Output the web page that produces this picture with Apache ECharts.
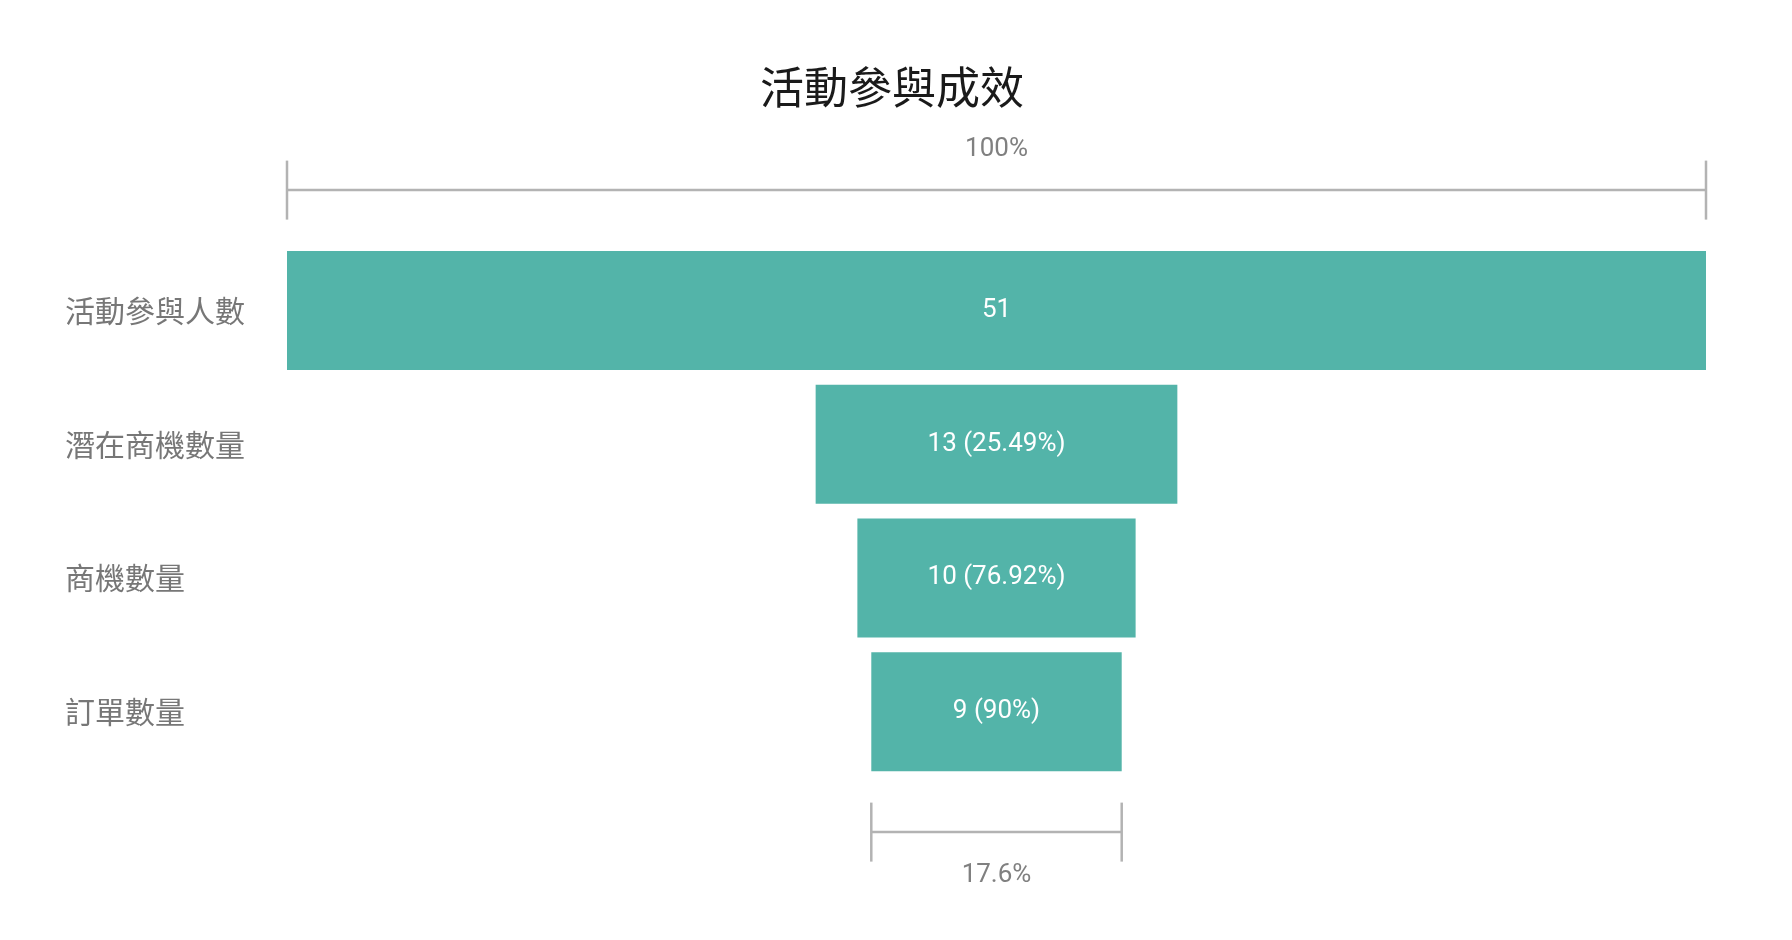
<!DOCTYPE html>
<html>
<head>
<meta charset="utf-8">
<script src="https://cdn.jsdelivr.net/npm/echarts@6/dist/echarts.min.js"></script>
<style>
html, body { margin: 0; padding: 0; background: #fff; }
#chart { width: 1792px; height: 940px; }
</style>
</head>
<body>
<div id="chart"></div>
<script>
var stages = ['活動參與人數', '潛在商機數量', '商機數量', '訂單數量'];
var counts = [51, 13, 10, 9];
var bracketLabels = ['100%', '17.6%'];

var maxVal = counts[0];
var offsets = counts.map(function (v) { return (maxVal - v) / 2; });
var last = counts.length - 1;

// [start, end, category index, side (-1 above / 1 below), label]
var brackets = [
  [0, maxVal, 0, -1, bracketLabels[0]],
  [offsets[last], offsets[last] + counts[last], last, 1, bracketLabels[1]]
];

var chart = echarts.init(document.getElementById('chart'));

var option = {
  backgroundColor: '#fff',
  animation: false,
  title: {
    text: '活動參與成效',
    left: 887,
    textAlign: 'center',
    top: 60,
    textStyle: {
      fontFamily: 'Noto Sans CJK TC',
      fontSize: 44,
      fontWeight: 'normal',
      color: '#1a1a1a'
    }
  },
  grid: { left: 287, right: 86, top: 243.6, bottom: 161.4, containLabel: false },
  xAxis: { type: 'value', min: 0, max: maxVal, show: false },
  yAxis: {
    type: 'category',
    inverse: true,
    data: stages,
    axisLine: { show: false },
    axisTick: { show: false },
    splitLine: { show: false },
    axisLabel: {
      align: 'left',
      margin: 222,
      fontFamily: 'Noto Sans CJK TC',
      fontSize: 30,
      color: '#777'
    }
  },
  series: [
    {
      type: 'bar',
      stack: 'funnel',
      barWidth: 119,
      silent: true,
      itemStyle: { color: 'rgba(0,0,0,0)' },
      data: offsets
    },
    {
      type: 'bar',
      stack: 'funnel',
      barWidth: 119,
      itemStyle: { color: '#53b4a9' },
      label: {
        show: true,
        position: 'inside',
        color: '#fff',
        fontFamily: 'Roboto',
        fontSize: 26,
        formatter: function (p) {
          if (p.dataIndex === 0) return String(p.value);
          var pct = parseFloat((p.value / counts[p.dataIndex - 1] * 100).toFixed(2));
          return p.value + ' (' + pct + '%)';
        }
      },
      data: counts
    },
    {
      type: 'custom',
      silent: true,
      data: brackets,
      encode: { x: [0, 1], y: 2 },
      renderItem: function (params, api) {
        var cat = api.value(2);
        var side = api.value(3);
        var a = api.coord([api.value(0), cat]);
        var b = api.coord([api.value(1), cat]);
        var band = api.size([0, 1])[1];
        var y = a[1] + side * band * 0.9;
        var half = 29.5;
        var lineStyle = { stroke: '#b3b3b3', lineWidth: 2.5 };
        var label = brackets[params.dataIndex][4];
        return {
          type: 'group',
          children: [
            { type: 'line', shape: { x1: a[0], y1: y, x2: b[0], y2: y }, style: lineStyle },
            { type: 'line', shape: { x1: a[0], y1: y - half, x2: a[0], y2: y + half }, style: lineStyle },
            { type: 'line', shape: { x1: b[0], y1: y - half, x2: b[0], y2: y + half }, style: lineStyle },
            {
              type: 'text',
              x: (a[0] + b[0]) / 2,
              y: side < 0 ? y - 41 : y + 43,
              style: {
                text: label,
                align: 'center',
                verticalAlign: 'middle',
                fontFamily: 'Roboto',
                fontSize: 26,
                fill: '#808080'
              }
            }
          ]
        };
      }
    }
  ]
};

chart.setOption(option);
</script>
</body>
</html>
